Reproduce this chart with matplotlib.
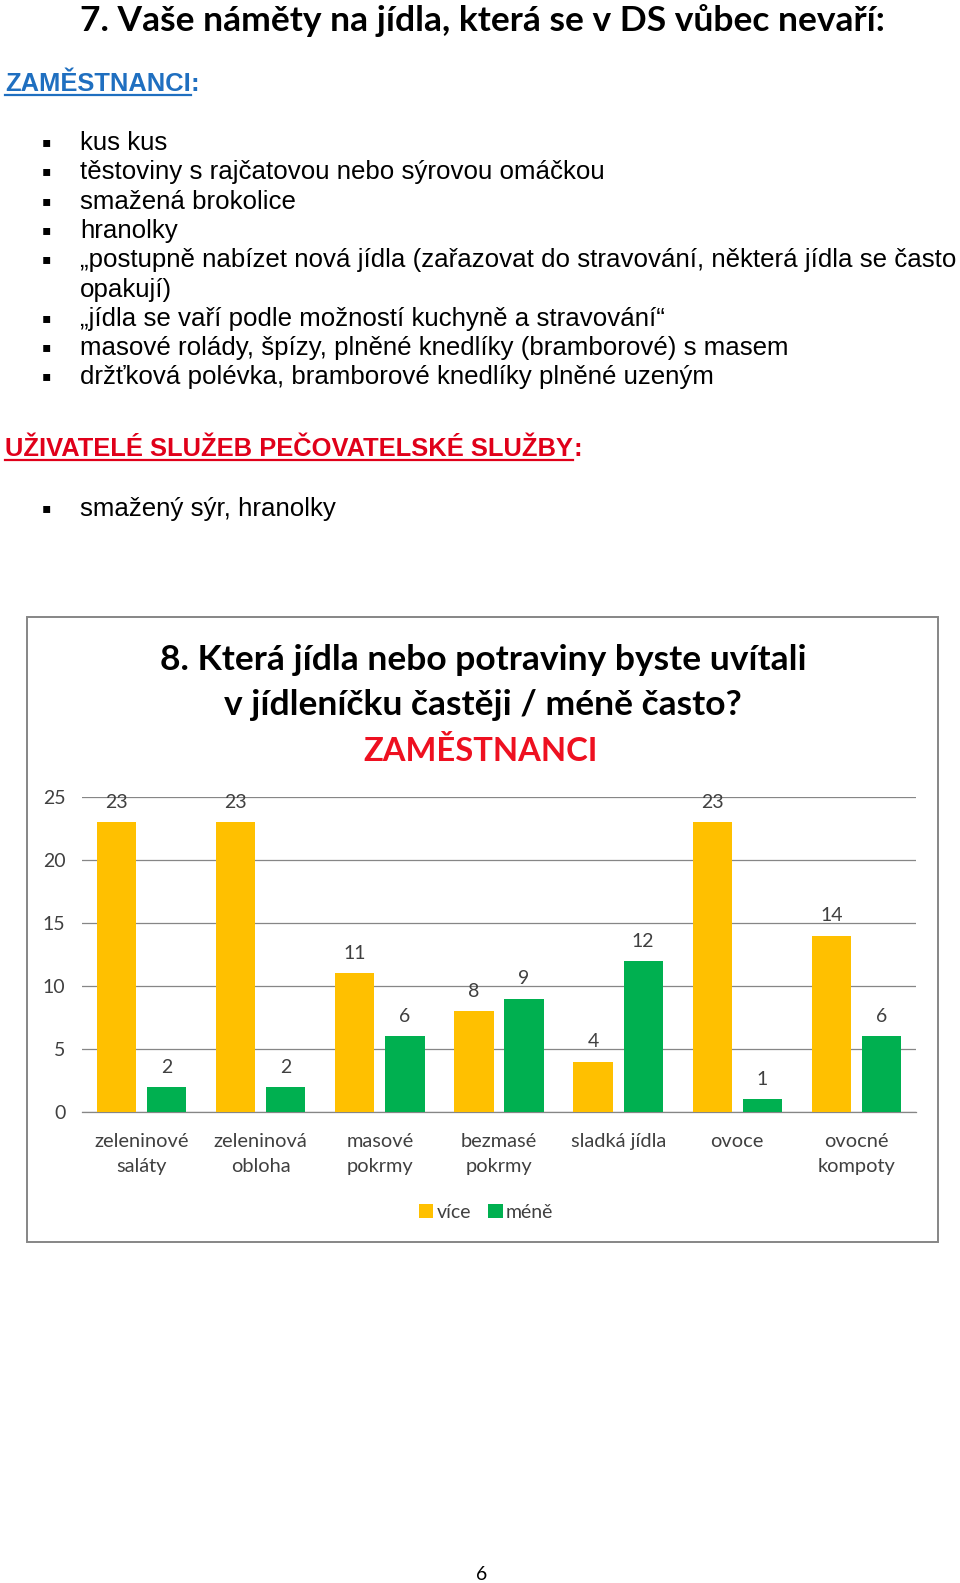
# Page 6 of the survey report: free-text answers for question 7 and the bar chart for question 8

import matplotlib
matplotlib.use("Agg")
import matplotlib.pyplot as plt
import numpy as np
from matplotlib.patches import Rectangle
from matplotlib.lines import Line2D

W, H = 960, 1583

# question 8 chart data
categories = ["zeleninové\nsaláty", "zeleninová\nobloha", "masové\npokrmy",
              "bezmasé\npokrmy", "sladká jídla", "ovoce", "ovocné\nkompoty"]
vice = [23, 23, 11, 8, 4, 23, 14]
mene = [2, 2, 6, 9, 12, 1, 6]
series_names = ["více", "méně"]
y_ticks = [0, 5, 10, 15, 20, 25]

# question 7 answers
employee_ideas = [
    "kus kus",
    "těstoviny s rajčatovou nebo sýrovou omáčkou",
    "smažená brokolice",
    "hranolky",
    "„postupně nabízet nová jídla (zařazovat do stravování, některá jídla se často\nopakují)",
    "„jídla se vaří podle možností kuchyně a stravování“",
    "masové rolády, špízy, plněné knedlíky (bramborové) s masem",
    "držťková polévka, bramborové knedlíky plněné uzeným",
]
user_ideas = ["smažený sýr, hranolky"]

YELLOW = "#FFC000"
GREEN = "#00B050"
GRID = "#868686"
TXT = "#404040"
BODY = ["Liberation Sans", "DejaVu Sans"]
CAL = ["Lato", "DejaVu Sans"]


def fx(x):
    return x / W


def fy(y):
    return 1 - y / H


fig = plt.figure(figsize=(W / 100, H / 100), dpi=100)
renderer = fig.canvas.get_renderer()

# page heading
fig.text(fx(482), fy(31), "7. Vaše náměty na jídla, která se v DS vůbec nevaří:",
         family=CAL, fontweight="bold", fontsize=25.5, ha="center", va="baseline")


def heading(x, y, label, color):
    t = fig.text(fx(x), fy(y), label, family=BODY, fontweight="bold", fontsize=18.4,
                 color=color, va="baseline")
    bb = t.get_window_extent(renderer)
    fig.text(bb.x1 / W, fy(y), ":", family=BODY, fontweight="bold", fontsize=18.4,
             color=color, va="baseline")
    uy = (H - y - 4) / H
    fig.add_artist(Line2D([bb.x0 / W, bb.x1 / W], [uy, uy], color=color, lw=1.6))


def bullets(items, y0, step=29.3):
    row = 0
    for item in items:
        y = y0 + row * step
        fig.text(fx(46), fy(y - 8), "▪", family=["DejaVu Sans"], fontsize=10,
                 ha="center", va="center")
        for line in item.split("\n"):
            fig.text(fx(80), fy(y0 + row * step), line, family=BODY, fontsize=18.6,
                     va="baseline")
            row += 1


heading(5, 91, "ZAMĚSTNANCI", "#1F6FC0")
bullets(employee_ideas, 150)
heading(5, 456, "UŽIVATELÉ SLUŽEB PEČOVATELSKÉ SLUŽBY", "#E0001A")
bullets(user_ideas, 516)

fig.text(fx(482), fy(1580), "6", family=CAL, fontsize=14, ha="center", va="baseline")

# chart frame
fig.add_artist(Rectangle((fx(27), fy(1242)), (938 - 27) / W, (1242 - 617) / H,
                         transform=fig.transFigure, fill=False, ec=GRID, lw=1.4))

fig.text(fx(483), fy(670), "8. Která jídla nebo potraviny byste uvítali",
         family=CAL, fontweight="bold", fontsize=25.5, ha="center", va="baseline")
fig.text(fx(483), fy(715), "v jídleníčku častěji / méně často?",
         family=CAL, fontweight="bold", fontsize=25.5, ha="center", va="baseline")
fig.text(fx(481), fy(761), "ZAMĚSTNANCI", family=CAL, fontweight="bold",
         fontsize=23.6, color="#EE1020", ha="center", va="baseline")

ax = fig.add_axes([fx(82), fy(1112), (916 - 82) / W, (1112 - 797) / H])
x = np.arange(len(categories))
b1 = ax.bar(x - 0.21, vice, 0.33, color=YELLOW, label=series_names[0], zorder=3)
b2 = ax.bar(x + 0.21, mene, 0.33, color=GREEN, label=series_names[1], zorder=3)
for bars in (b1, b2):
    ax.bar_label(bars, padding=8, fontsize=14, color=TXT, family=CAL)

ax.set_xlim(-0.5, len(categories) - 0.5)
ax.set_ylim(0, 25)
ax.set_yticks(y_ticks)
ax.set_xticks(x)
ax.set_xticklabels(categories, family=CAL, fontsize=14.4, color=TXT, linespacing=1.55)
ax.set_yticklabels([str(v) for v in y_ticks], family=CAL, fontsize=14, color=TXT)
ax.tick_params(axis="both", length=0)
ax.tick_params(axis="x", pad=15)
ax.tick_params(axis="y", pad=12)
ax.grid(axis="y", color=GRID, lw=0.9, zorder=0)
for side in ("top", "right", "left"):
    ax.spines[side].set_visible(False)
ax.spines["bottom"].set_color(GRID)
ax.spines["bottom"].set_linewidth(0.9)

ax.legend(loc="center", bbox_to_anchor=(fx(486), fy(1212)), bbox_transform=fig.transFigure,
          ncol=2, frameon=False, prop={"family": CAL, "size": 14},
          handlelength=0.75, handleheight=0.75, handletextpad=0.15, columnspacing=0.9,
          labelcolor=TXT)

fig.savefig("out.png", dpi=100)
